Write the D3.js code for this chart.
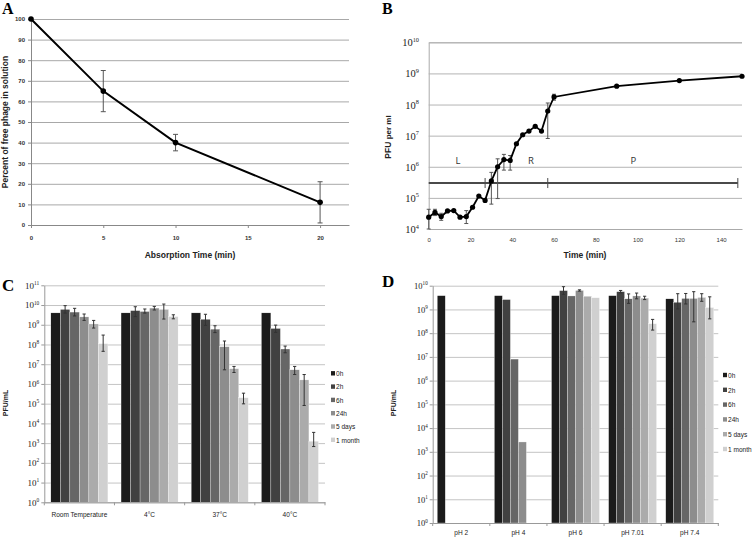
<!DOCTYPE html>
<html><head><meta charset="utf-8">
<script src="https://cdn.jsdelivr.net/npm/d3@7"></script>
<style>body{margin:0;background:#fff}</style>
</head><body>
<svg id="chart" width="754" height="540"></svg>
<script>
// ---------- Panel A data ----------
const aTime = [0, 5, 10, 20];
const aPercent = [100, 65, 40, 11];
const aErrLo = [null, 55, 36, 1];
const aErrHi = [null, 75, 44, 21];
const aXTicks = [0, 5, 10, 15, 20];
const aYTicks = [0, 10, 20, 30, 40, 50, 60, 70, 80, 90, 100];

// ---------- Panel B data ----------
const bTime = [0, 3, 6, 9, 12, 15, 18, 21, 24, 27, 30, 33, 36, 39, 42, 45, 48, 51, 54, 57, 60, 90, 120, 150];
const bPfu = [2.4e4, 3.4e4, 2.5e4, 3.8e4, 3.9e4, 2.4e4, 2.5e4, 5e4, 1.15e5, 8.3e4, 3.5e5, 1.0e6, 1.7e6, 1.6e6, 5.5e6, 1.07e7, 1.4e7, 2.0e7, 1.4e7, 6.2e7, 1.75e8, 3.9e8, 5.9e8, 8.1e8];
const bErrLo = [1.0e4, 2.7e4, 1.9e4, null, null, null, 1.5e4, null, null, null, 6.3e4, 9.5e4, 7.8e5, 7.8e5, null, null, null, null, null, 8.1e6, 1.38e8, null, null, null];
const bErrHi = [4.3e4, 4.3e4, 3.2e4, null, null, null, 3.9e4, null, null, null, 6.6e5, 1.8e6, 2.5e6, 2.3e6, null, null, null, null, null, 1.12e8, 2.14e8, null, null, null];
const bXTicks = [0, 20, 40, 60, 80, 100, 120, 140];
const bYExps = [4, 5, 6, 7, 8, 9, 10];
const bPhaseLevel = 3e5;
const bPhaseMarks = [0, 27, 57, 148];
const bPhaseLabels = ["L", "R", "P"];
const bPhaseLabelX = [14, 49, 98];
const bPhaseLabelY = 1.6e6;

// ---------- Panel C data ----------
const seriesNames = ["0h", "2h", "6h", "24h", "5 days", "1 month"];
const cCategories = ["Room Temperature", "4°C", "37°C", "40°C"];
const c0h = [4e9, 4e9, 4e9, 4e9];
const c2h = [6e9, 5.2e9, 1.9e9, 6.5e8];
const c6h = [4.4e9, 4.7e9, 6e8, 5.9e7];
const c24h = [2.5e9, 7e9, 7.7e7, 5.2e6];
const c5d = [1.1e9, 6e9, 5.9e6, 1.6e6];
const c1m = [1.1e8, 2.6e9, 2e5, 1.25e3];
const c2hLo = [3.9e9, 2.6e9, 9.3e8, 4.1e8], c2hHi = [9.3e9, 8.2e9, 3.4e9, 9.6e8];
const c6hLo = [2.8e9, 3.9e9, 4e8, 3.8e7], c6hHi = [6.8e9, 6.3e9, 8.9e8, 8.3e7];
const c24hLo = [1.66e9, 5.6e9, 5.2e6, 3e6], c24hHi = [3.5e9, 8.5e9, 1.5e8, 7.7e6];
const c5dLo = [6.8e8, 1.95e9, 3.8e6, 8.1e4], c5dHi = [1.66e9, 1.12e10, 7.7e6, 3e6];
const c1mLo = [4.5e7, 2e9, 9.8e4, 6.7e2], c1mHi = [3e8, 3.2e9, 3.4e5, 3.5e3];
const cYExps = [0, 1, 2, 3, 4, 5, 6, 7, 8, 9, 10, 11];

// ---------- Panel D data ----------
const dCategories = ["pH 2", "pH 4", "pH 6", "pH 7.01", "pH 7.4"];
const d0h = [3.8e9, 3.8e9, 3.8e9, 3.8e9, 2.8e9];
const d2h = [null, 2.6e9, 6.2e9, 5.6e9, 2.0e9];
const d6h = [null, 8.1e6, 3.7e9, 2.8e9, 2.9e9];
const d24h = [null, 2.6e3, 6.3e9, 3.7e9, 2.9e9];
const d5d = [null, null, 3.6e9, 3.0e9, 3.2e9];
const d1m = [null, null, 3.1e9, 2.5e8, 1.2e9];
const d2hLo = [null, null, 4.3e9, 5.0e9, 1.05e9], d2hHi = [null, null, 9.1e9, 6.3e9, 4.6e9];
const d6hLo = [null, null, null, 1.8e9, 1.7e9], d6hHi = [null, null, null, 4.5e9, 4.7e9];
const d24hLo = [null, null, 5.9e9, 2.8e9, 3e8], d24hHi = [null, null, 6.7e9, 4.9e9, 5.6e9];
const d5dLo = [null, null, null, 2.6e9, 2.2e9], d5dHi = [null, null, null, 3.6e9, 4.6e9];
const d1mLo = [null, null, null, 1.35e8, 4e8], d1mHi = [null, null, null, 3.8e8, 3.4e9];
const dYExps = [0, 1, 2, 3, 4, 5, 6, 7, 8, 9, 10];

const barColors = ["#1b1b1b", "#414141", "#666666", "#8d8d8d", "#ababab", "#d0d0d0"];

// ---------- helpers ----------
const svg = d3.select("#chart");
const SANS = "'Liberation Sans', Arial, sans-serif";
const SERIF = "'Liberation Serif', 'Times New Roman', serif";
const SQUEEZE = 0.82;

function panelLabel(t, x, y, size) {
  svg.append("text").attr("x", x).attr("y", y).text(t)
    .attr("font-family", SERIF).attr("font-weight", "bold").attr("font-size", size).attr("fill", "#000");
}
function powLabels(g, scale, exps, xRight, size) {
  exps.forEach(e => {
    const t = g.append("text").attr("x", xRight).attr("y", scale(Math.pow(10, e)))
      .attr("dy", "0.38em").attr("text-anchor", "end")
      .attr("font-family", SERIF).attr("font-size", size).attr("fill", "#222");
    t.append("tspan").text("10");
    t.append("tspan").text(e).attr("dy", -size * 0.42).attr("font-size", size * 0.6);
  });
}
function errBars(g, pts, color, cap) {
  pts.forEach(p => {
    g.append("line").attr("x1", p.x).attr("x2", p.x).attr("y1", p.y1).attr("y2", p.y2)
      .attr("stroke", color).attr("stroke-width", 1);
    [p.y1, p.y2].forEach(yy => g.append("line").attr("x1", p.x - cap).attr("x2", p.x + cap)
      .attr("y1", yy).attr("y2", yy).attr("stroke", color).attr("stroke-width", 1));
  });
}

// ================= Panel A =================
(function () {
  const g = svg.append("g");
  const x = d3.scaleLinear().domain([0, 22]).range([31, 349]);
  const y = d3.scaleLinear().domain([0, 100]).range([225, 19]);
  const grid = g.append("g").attr("transform", `translate(${x(0)},0)`)
    .call(d3.axisLeft(y).tickValues(aYTicks).tickSize(-(x(22) - x(0))).tickFormat(""));
  grid.select(".domain").remove();
  grid.selectAll("line").attr("stroke", "#a8a8a8");
  const yAx = g.append("g").attr("transform", `translate(${x(0)},0)`)
    .call(d3.axisLeft(y).tickValues(aYTicks).tickSize(3).tickPadding(3));
  yAx.select(".domain").attr("stroke", "#888");
  yAx.selectAll("line").attr("stroke", "#888");
  yAx.selectAll("text").attr("font-family", SANS).attr("font-weight", "bold").attr("font-size", 6).attr("fill", "#333");
  const xAx = g.append("g").attr("transform", `translate(0,${y(0)})`)
    .call(d3.axisBottom(x).tickValues(aXTicks).tickSize(3).tickSizeOuter(0).tickPadding(8));
  xAx.select(".domain").attr("stroke", "#888");
  xAx.selectAll("line").attr("stroke", "#888");
  xAx.selectAll("text").attr("font-family", SANS).attr("font-weight", "bold").attr("font-size", 6).attr("fill", "#333");
  const pts = aTime.map((t, i) => aErrLo[i] == null ? null : { x: x(t), y1: y(aErrHi[i]), y2: y(aErrLo[i]) }).filter(d => d);
  errBars(g, pts, "#555", 2.5);
  g.append("path").datum(aTime.map((t, i) => [t, aPercent[i]]))
    .attr("d", d3.line().x(d => x(d[0])).y(d => y(d[1])))
    .attr("fill", "none").attr("stroke", "#000").attr("stroke-width", 2);
  g.selectAll(".am").data(aTime).join("circle").attr("cx", d => x(d)).attr("cy", (d, i) => y(aPercent[i]))
    .attr("r", 2.8).attr("fill", "#000");
  g.append("text").attr("transform", "translate(8,122) rotate(-90)").attr("text-anchor", "middle")
    .attr("font-family", SANS).attr("font-weight", "bold").attr("font-size", 8.5).attr("fill", "#222")
    .text("Percent of free phage in solution");
  g.append("text").attr("x", 190).attr("y", 258).attr("text-anchor", "middle")
    .attr("font-family", SANS).attr("font-weight", "bold").attr("font-size", 8.5).attr("fill", "#222")
    .text("Absorption Time (min)");
  panelLabel("A", 2, 14, 16);
})();

// ================= Panel B =================
(function () {
  const g = svg.append("g");
  const x = d3.scaleLinear().domain([0, 150]).range([428.7, 742]);
  const y = d3.scaleLog().domain([1e4, 1e10]).range([229, 42.3]);
  const yTickVals = bYExps.map(e => Math.pow(10, e));
  const grid = g.append("g").attr("transform", `translate(${x(0)},0)`)
    .call(d3.axisLeft(y).tickValues(yTickVals).tickSize(-(x(150) - x(0))).tickFormat(""));
  grid.select(".domain").attr("stroke", "#aaa");
  grid.selectAll("line").attr("stroke", "#b4b4b4");
  const xAx = g.append("g").attr("transform", `translate(0,${y(1e4)})`)
    .call(d3.axisBottom(x).tickValues(bXTicks).tickSize(0).tickSizeOuter(0).tickPadding(9));
  xAx.select(".domain").attr("stroke", "#aaa");
  xAx.selectAll("text").attr("font-family", SANS).attr("font-size", 6).attr("fill", "#333");
  powLabels(g, y, bYExps, 419, 10.5);
  g.append("line").attr("x1", x(bPhaseMarks[0])).attr("x2", x(bPhaseMarks[bPhaseMarks.length - 1]))
    .attr("y1", y(bPhaseLevel)).attr("y2", y(bPhaseLevel)).attr("stroke", "#4a4a4a").attr("stroke-width", 2);
  bPhaseMarks.slice(1).forEach(m => g.append("line").attr("x1", x(m)).attr("x2", x(m))
    .attr("y1", y(bPhaseLevel) - 5).attr("y2", y(bPhaseLevel) + 5).attr("stroke", "#4a4a4a").attr("stroke-width", 1));
  bPhaseLabels.forEach((l, i) => g.append("text").attr("x", x(bPhaseLabelX[i])).attr("y", y(bPhaseLabelY))
    .attr("dy", "0.35em").attr("text-anchor", "middle").attr("font-family", "'Open Sans', " + SANS)
    .attr("font-size", 9.5).attr("fill", "#333").text(l));
  const pts = bTime.map((t, i) => bErrLo[i] == null ? null : { x: x(t), y1: y(bErrHi[i]), y2: y(bErrLo[i]) }).filter(d => d);
  errBars(g, pts, "#555", 2);
  g.append("path").datum(bTime.map((t, i) => [t, bPfu[i]]))
    .attr("d", d3.line().x(d => x(d[0])).y(d => y(d[1])))
    .attr("fill", "none").attr("stroke", "#000").attr("stroke-width", 1.8);
  g.selectAll(".bm").data(bTime).join("circle").attr("cx", d => x(d)).attr("cy", (d, i) => y(bPfu[i]))
    .attr("r", 2.6).attr("fill", "#000");
  const yt = g.append("text").attr("transform", "translate(391,137) rotate(-90)").attr("text-anchor", "middle")
    .attr("font-family", SANS).attr("font-weight", "bold").attr("fill", "#222");
  yt.append("tspan").text("PFU ").attr("font-size", 8.5);
  yt.append("tspan").text("per ml").attr("font-size", 8);
  g.append("text").attr("x", 585).attr("y", 258).attr("text-anchor", "middle")
    .attr("font-family", SANS).attr("font-weight", "bold").attr("font-size", 8.5).attr("fill", "#222")
    .text("Time (min)");
  panelLabel("B", 382, 14, 16);
})();

// ================= bar panel helper =================
function barPanel(opts) {
  const g = svg.append("g");
  const x = d3.scaleBand().domain(opts.categories).range([opts.left, opts.right]).paddingInner(0).paddingOuter(0);
  const xi = d3.scaleBand().domain(seriesNames).range([0, x.bandwidth()]).paddingInner(0).paddingOuter(opts.outer);
  const y = d3.scaleLog().domain([1, Math.pow(10, opts.maxExp)]).range([opts.bottom, opts.top]);
  const tickVals = opts.exps.map(e => Math.pow(10, e));
  const grid = g.append("g").attr("transform", `translate(${opts.left},0)`)
    .call(d3.axisLeft(y).tickValues(tickVals).tickSize(-(opts.right - opts.left)).tickFormat(""));
  grid.select(".domain").remove();
  grid.selectAll("line").attr("stroke", "#c4c4c4");
  const yAx = g.append("g").attr("transform", `translate(${opts.left},0)`)
    .call(d3.axisLeft(y).tickValues(tickVals).tickSize(3).tickSizeOuter(0).tickFormat(""));
  yAx.select(".domain").attr("stroke", "#999");
  yAx.selectAll("line").attr("stroke", "#999");
  powLabels(g, y, opts.exps, opts.left - 5, opts.labelSize);
  opts.series.forEach((vals, s) => {
    vals.forEach((v, c) => {
      if (v == null) return;
      g.append("rect").attr("x", x(opts.categories[c]) + xi(seriesNames[s])).attr("width", xi.bandwidth())
        .attr("y", y(v)).attr("height", y(1) - y(v)).attr("fill", barColors[s])
        .attr("stroke", "#fff").attr("stroke-width", 0.3);
    });
  });
  opts.series.forEach((vals, s) => {
    const lo = opts.lo[s], hi = opts.hi[s];
    if (!lo) return;
    vals.forEach((v, c) => {
      if (lo[c] == null) return;
      const cx = x(opts.categories[c]) + xi(seriesNames[s]) + xi.bandwidth() / 2;
      errBars(g, [{ x: cx, y1: y(hi[c]), y2: y(lo[c]) }], "#333", 1.6);
    });
  });
  const xAx = g.append("g").attr("transform", `translate(0,${opts.bottom})`)
    .call(d3.axisBottom(x).tickSize(0).tickPadding(opts.catPad));
  xAx.select(".domain").attr("stroke", "#999");
  xAx.selectAll("text").attr("font-family", SANS).attr("font-size", opts.catSize).attr("fill", "#222")
    .attr("transform", `scale(${SQUEEZE},1)`);
  const bounds = [opts.left].concat(opts.categories.map(c => x(c) + x.bandwidth()));
  bounds.forEach(b => g.append("line").attr("x1", b).attr("x2", b).attr("y1", opts.bottom).attr("y2", opts.bottom + 3)
    .attr("stroke", "#999"));
  seriesNames.forEach((n, i) => {
    const ly = opts.legY + i * opts.legStep;
    g.append("rect").attr("x", opts.legX).attr("y", ly - 2.2).attr("width", 4).attr("height", 4.4).attr("fill", barColors[i]);
    g.append("text").attr("transform", `translate(${opts.legX + 5},${ly}) scale(${SQUEEZE},1)`).attr("dy", "0.35em")
      .attr("font-family", SANS).attr("font-size", opts.legSize).attr("fill", "#222").text(n);
  });
  g.append("text").attr("transform", `translate(${opts.ytX},${opts.ytY}) rotate(-90)`).attr("text-anchor", "middle")
    .attr("font-family", SANS).attr("font-weight", "bold").attr("font-size", 7).attr("fill", "#222").text("PFU/mL");
}

barPanel({
  categories: cCategories, left: 44.3, right: 325, top: 285.3, bottom: 502.3, maxExp: 11, exps: cYExps,
  outer: 0.69, labelSize: 9,
  series: [c0h, c2h, c6h, c24h, c5d, c1m],
  lo: [null, c2hLo, c6hLo, c24hLo, c5dLo, c1mLo], hi: [null, c2hHi, c6hHi, c24hHi, c5dHi, c1mHi],
  catPad: 9, catSize: 8, legX: 331, legY: 373.3, legStep: 13.3, legSize: 8, ytX: 8, ytY: 403
});
panelLabel("C", 2, 291, 17);

barPanel({
  categories: dCategories, left: 432.7, right: 718.3, top: 285.7, bottom: 523, maxExp: 10, exps: dYExps,
  outer: 0.57, labelSize: 8.5,
  series: [d0h, d2h, d6h, d24h, d5d, d1m],
  lo: [null, d2hLo, d6hLo, d24hLo, d5dLo, d1mLo], hi: [null, d2hHi, d6hHi, d24hHi, d5dHi, d1mHi],
  catPad: 6, catSize: 8, legX: 723, legY: 375, legStep: 14.8, legSize: 8, ytX: 396, ytY: 403
});
panelLabel("D", 382, 287, 17);
</script>
</body></html>
